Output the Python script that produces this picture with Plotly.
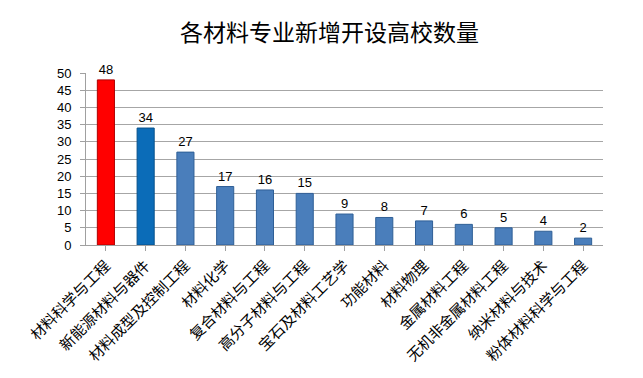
import plotly.graph_objects as go

categories = ["材料科学与工程", "新能源材料与器件", "材料成型及控制工程", "材料化学",
              "复合材料与工程", "高分子材料与工程", "宝石及材料工艺学", "功能材料",
              "材料物理", "金属材料工程", "无机非金属材料工程", "纳米材料与技术",
              "粉体材料科学与工程"]
values = [48, 34, 27, 17, 16, 15, 9, 8, 7, 6, 5, 4, 2]
colors = ["#FF0000", "#0B6CB8"] + ["#4A7EBB"] * 11
line_colors = ["#B00000", "#08518A"] + ["#2F5F96"] * 11

font_cjk = "Noto Sans CJK SC"

fig = go.Figure()
fig.add_trace(go.Bar(
    x=categories, y=values,
    marker=dict(color=colors, line=dict(color=line_colors, width=1)),
    width=0.43,
    text=[str(v) for v in values], textposition="outside",
    textfont=dict(size=13, color="#000000", family="Liberation Sans"),
    cliponaxis=False,
))

fig.update_layout(
    width=643, height=378,
    margin=dict(l=78, r=48, t=65, b=141, autoexpand=False),
    paper_bgcolor="white", plot_bgcolor="white",
    title=dict(text="各材料专业新增开设高校数量", x=0.5, xanchor="center", y=0.955, yanchor="top",
               font=dict(size=23, family=font_cjk, color="#000000")),
    showlegend=False,
)
fig.update_xaxes(
    tickangle=-45, tickfont=dict(size=15, family=font_cjk, color="#000000"),
    showline=True, linecolor="#A0A0A0", ticks="outside", ticklen=5, tickcolor="#A0A0A0",
    showgrid=False, automargin=False,
)
fig.update_yaxes(
    range=[0, 50], dtick=5, tickfont=dict(size=13, family="Liberation Sans", color="#000000"),
    showgrid=True, gridcolor="#A6A6A6", gridwidth=1,
    showline=True, linecolor="#A0A0A0", ticks="outside", ticklen=5, tickcolor="#A0A0A0",
    ticklabelstandoff=6,
    zeroline=False, automargin=False,
)
fig.write_html("out.html")
